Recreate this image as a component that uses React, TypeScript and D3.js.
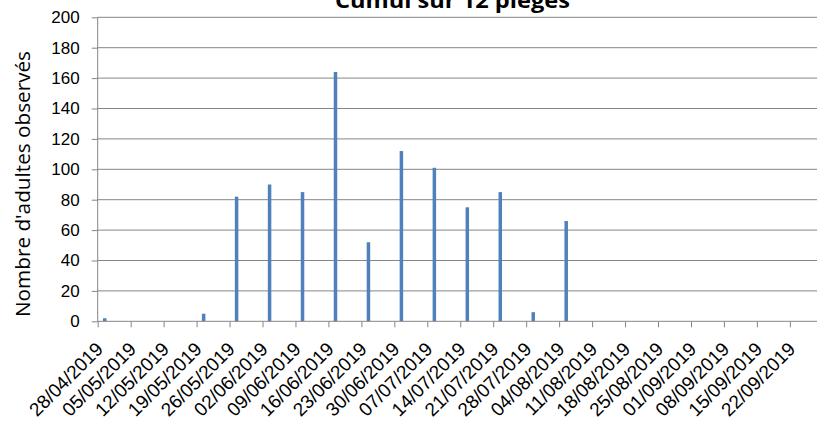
import { useEffect, useRef } from 'react';
import * as d3 from 'd3';

// Semaines affichées sur l'axe (dimanches)
const weekLabels = [
  '28/04/2019', '05/05/2019', '12/05/2019', '19/05/2019', '26/05/2019', '02/06/2019',
  '09/06/2019', '16/06/2019', '23/06/2019', '30/06/2019', '07/07/2019', '14/07/2019',
  '21/07/2019', '28/07/2019', '04/08/2019', '11/08/2019', '18/08/2019', '25/08/2019',
  '01/09/2019', '08/09/2019', '15/09/2019', '22/09/2019',
];

// Relevés (lundis) et nombre d'adultes cumulés sur les 12 pièges
const releveDates = [
  '29/04/2019', '06/05/2019', '13/05/2019', '20/05/2019', '27/05/2019', '03/06/2019',
  '10/06/2019', '17/06/2019', '24/06/2019', '01/07/2019', '08/07/2019', '15/07/2019',
  '22/07/2019', '29/07/2019', '05/08/2019',
];
const adultes = [2, 0, 0, 5, 82, 90, 85, 164, 52, 112, 101, 75, 85, 6, 66];

const yTicks = [0, 20, 40, 60, 80, 100, 120, 140, 160, 180, 200];

const W = 817;
const H = 423;

export default function App() {
  const svgRef = useRef<SVGSVGElement>(null);

  useEffect(() => {
    if (!svgRef.current) return;
    const parse = d3.timeParse('%d/%m/%Y');
    const weeks = weekLabels.map(s => parse(s) as Date);
    const fmt = d3.timeFormat('%d/%m/%Y');

    const left = 97.7;
    const top = 17.3;
    const bottom = 321.3;
    const weekW = 32.96;

    const svg = d3.select(svgRef.current);
    svg.selectAll('*').remove();

    const xEnd = d3.timeWeek.offset(weeks[weeks.length - 1], 1);
    const x = d3.scaleTime()
      .domain([weeks[0], xEnd])
      .range([left, left + weekW * weeks.length]);
    const y = d3.scaleLinear().domain([0, 200]).range([bottom, top]);
    const xr = x.range()[1];

    // grille
    svg.append('g')
      .selectAll('line')
      .data(yTicks.filter(v => v > 0))
      .enter()
      .append('line')
      .attr('x1', left)
      .attr('x2', xr)
      .attr('y1', d => y(d))
      .attr('y2', d => y(d))
      .attr('stroke', '#868686')
      .attr('stroke-width', 1);

    // axe Y
    const yAxis = svg.append('g')
      .attr('transform', `translate(${left},0)`)
      .call(d3.axisLeft(y).tickValues(yTicks).tickSize(6).tickPadding(12));
    yAxis.selectAll('path, line').attr('stroke', '#868686');
    yAxis.select('.domain').attr('d', `M0,${bottom}V${top}`);
    yAxis.selectAll('text')
      .attr('fill', '#000')
      .style('font-family', '"Liberation Sans", Arial, sans-serif')
      .style('font-size', '17px');

    // barres
    const dayW = x(d3.timeDay.offset(weeks[0], 1)) - x(weeks[0]);
    const barW = 3.5;
    svg.append('g')
      .selectAll('rect')
      .data(releveDates.map((d, i) => ({ date: parse(d) as Date, v: adultes[i] })))
      .enter()
      .append('rect')
      .attr('x', d => x(d.date) + dayW / 2 - barW / 2)
      .attr('y', d => y(d.v))
      .attr('width', barW)
      .attr('height', d => bottom - y(d.v))
      .attr('fill', '#4F81BD');

    // axe X
    const xAxis = svg.append('g')
      .attr('transform', `translate(0,${bottom})`)
      .call(d3.axisBottom(x).tickValues(weeks).tickSize(6).tickFormat(d => fmt(d as Date)));
    xAxis.selectAll('path, line').attr('stroke', '#868686');
    xAxis.select('.domain').attr('d', `M${left},0H${xr}`);
    xAxis.selectAll('text')
      .attr('fill', '#000')
      .attr('text-anchor', 'end')
      .attr('dy', null)
      .attr('y', 0)
      .attr('transform', 'translate(6,29) rotate(-45)')
      .style('font-family', '"Liberation Sans", Arial, sans-serif')
      .style('font-size', '19px');

    // titre
    svg.append('text')
      .attr('x', 452.5)
      .attr('y', 8)
      .attr('text-anchor', 'middle')
      .attr('font-family', '"Open Sans", "Liberation Sans", sans-serif')
      .attr('font-weight', 'bold')
      .attr('font-size', 22)
      .attr('textLength', 235)
      .attr('lengthAdjust', 'spacingAndGlyphs')
      .text('Cumul sur 12 pièges');

    // titre de l'axe Y
    svg.append('text')
      .attr('transform', `translate(30,${184}) rotate(-90)`)
      .attr('text-anchor', 'middle')
      .attr('font-family', '"Open Sans", "Liberation Sans", sans-serif')
      .attr('font-size', 20)
      .attr('textLength', 266)
      .attr('lengthAdjust', 'spacingAndGlyphs')
      .text("Nombre d'adultes observés");
  }, []);

  return (
    <svg
      ref={svgRef}
      width={W}
      height={H}
      style={{ position: 'absolute', left: 0, top: 0, background: '#fff', display: 'block' }}
    />
  );
}
